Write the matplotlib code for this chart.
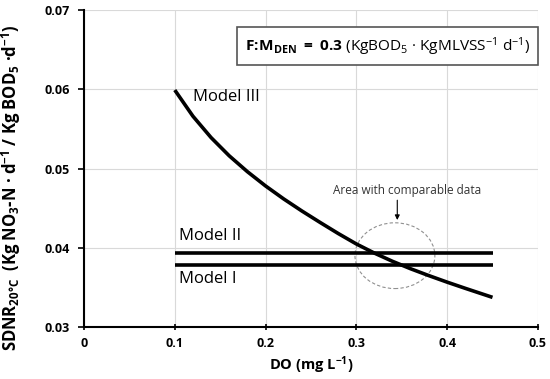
import matplotlib
matplotlib.use("Agg")
import matplotlib.pyplot as plt
from matplotlib.patches import Ellipse

plt.rcParams['font.family'] = ['Open Sans', 'DejaVu Sans']
plt.rcParams['mathtext.fontset'] = 'custom'
plt.rcParams['mathtext.rm'] = 'Open Sans'
plt.rcParams['mathtext.it'] = 'Open Sans:italic'
plt.rcParams['mathtext.bf'] = 'Open Sans:bold'

# Data
do_model3 = [0.10, 0.12, 0.14, 0.16, 0.18, 0.20, 0.22, 0.24, 0.26, 0.28, 0.30,
             0.32, 0.34, 0.36, 0.38, 0.40, 0.42, 0.44, 0.45]
sdnr_model3 = [0.0599, 0.0566, 0.0539, 0.0516, 0.0496, 0.0478, 0.04616, 0.04464,
               0.04320, 0.0418, 0.04048, 0.03932, 0.03828, 0.03734, 0.03648,
               0.03566, 0.03488, 0.03412, 0.03374]
do_flat = [0.10, 0.45]
sdnr_model2 = [0.0394, 0.0394]
sdnr_model1 = [0.0378, 0.0378]
x_ticks = [0, 0.1, 0.2, 0.3, 0.4, 0.5]
x_ticklabels = ["0", "0.1", "0.2", "0.3", "0.4", "0.5"]
y_ticks = [0.03, 0.04, 0.05, 0.06, 0.07]
y_ticklabels = ["0.03", "0.04", "0.05", "0.06", "0.07"]

fig = plt.figure(figsize=(5.5, 3.79), dpi=100)
ax = fig.add_axes([0.1527, 0.1372, 0.8253, 0.8364])
ax.set_xlim(0, 0.5)
ax.set_ylim(0.03, 0.07)

ax.grid(True, color='#d9d9d9', linewidth=0.8)
ax.set_axisbelow(True)
for s in ['top', 'right']:
    ax.spines[s].set_visible(False)
for s in ['left', 'bottom']:
    ax.spines[s].set_linewidth(1.5)
    ax.spines[s].set_color('black')

lw = 2.6
ax.plot(do_model3, sdnr_model3, color='black', linewidth=lw, solid_capstyle='butt',
        solid_joinstyle='round')
ax.plot(do_flat, sdnr_model2, color='black', linewidth=lw, solid_capstyle='butt')
ax.plot(do_flat, sdnr_model1, color='black', linewidth=lw, solid_capstyle='butt')

ax.set_xticks(x_ticks)
ax.set_xticklabels(x_ticklabels, fontweight='bold', fontsize=9)
ax.set_yticks(y_ticks)
ax.set_yticklabels(y_ticklabels, fontweight='bold', fontsize=9)
ax.tick_params(axis='x', direction='inout', length=5, width=1.2, pad=5)
ax.tick_params(axis='y', direction='out', length=4, width=1.2, pad=6)

ax.set_xlabel(r"DO (mg L$^{\mathbf{-1}}$)", fontweight='bold', fontsize=10.5, labelpad=3)
ax.set_ylabel(r"SDNR$_{\mathbf{20°C}}$  (Kg NO$_{\mathbf{3}}$-N · d$^{\mathbf{-1}}$ / Kg BOD$_{\mathbf{5}}$ ·d$^{\mathbf{-1}}$)",
              fontweight='bold', fontsize=12)
ax.yaxis.set_label_coords(-0.135, 0.44)

ax.text(0.12, 0.0590, "Model III", fontsize=12, va='center', ha='left')
ax.text(0.105, 0.0415, "Model II", fontsize=12, va='center', ha='left')
ax.text(0.105, 0.0361, "Model I", fontsize=12, va='center', ha='left')

ell = Ellipse((0.3425, 0.0390), 0.088, 0.0083, fill=False, edgecolor='#909090',
              linestyle=(0, (3, 2)), linewidth=0.8)
ax.add_patch(ell)
ax.text(0.3563, 0.0472, "Area with comparable data", fontsize=8.5, ha='center', va='center',
        color='#333333')
ax.annotate("", xy=(0.3451, 0.0435), xytext=(0.3451, 0.0460),
            arrowprops=dict(arrowstyle='-|>', color='black', lw=0.8, mutation_scale=7,
                            shrinkA=0, shrinkB=0))

ax.text(0.4915, 0.0654,
        r"$\mathbf{F\!:\!M_{DEN}\ =\ 0.3}$ (KgBOD$_5$ · KgMLVSS$^{-1}$ d$^{-1}$)",
        fontsize=11.1, ha='right', va='center',
        bbox=dict(boxstyle='square,pad=0.5', facecolor='white', edgecolor='#555555', linewidth=1.2))

fig.savefig("out.png", dpi=100)
